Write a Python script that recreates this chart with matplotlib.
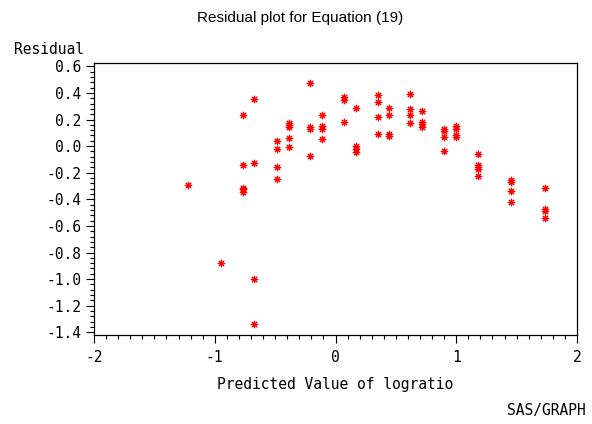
import matplotlib
matplotlib.use("Agg")
import matplotlib.pyplot as plt
from matplotlib.ticker import MultipleLocator, FormatStrFormatter

plt.rcParams['axes.unicode_minus'] = False

# predicted value of logratio and residuals
predicted = [-1.223, -0.945,
             -0.765, -0.765, -0.765, -0.765, -0.765,
             -0.671, -0.671, -0.671, -0.671,
             -0.486, -0.486, -0.486, -0.486,
             -0.389, -0.389, -0.389, -0.389, -0.389,
             -0.210, -0.210, -0.210, -0.210,
             -0.113, -0.113, -0.113, -0.113,
             0.070, 0.070, 0.070,
             0.166, 0.166, 0.166, 0.166,
             0.348, 0.348, 0.348, 0.348,
             0.442, 0.442, 0.442, 0.442,
             0.621, 0.621, 0.621, 0.621,
             0.718, 0.718, 0.718, 0.718,
             0.900, 0.900, 0.900, 0.900,
             0.998, 0.998, 0.998, 0.998,
             1.176, 1.176, 1.176, 1.176, 1.176,
             1.456, 1.456, 1.456, 1.456,
             1.735, 1.735, 1.735, 1.735]
residual = [-0.295, -0.877,
            0.232, -0.144, -0.313, -0.325, -0.343,
            0.352, -0.129, -0.997, -1.340,
            0.038, -0.020, -0.159, -0.245,
            0.176, 0.159, 0.144, 0.059, -0.007,
            0.474, 0.146, 0.129, -0.072,
            0.232, 0.149, 0.131, 0.056,
            0.369, 0.349, 0.183,
            0.284, 0.003, -0.024, -0.044,
            0.384, 0.332, 0.217, 0.093,
            0.284, 0.232, 0.089, 0.076,
            0.389, 0.281, 0.236, 0.171,
            0.262, 0.179, 0.164, 0.144,
            0.126, 0.114, 0.071, -0.037,
            0.151, 0.131, 0.083, 0.071,
            -0.062, -0.144, -0.157, -0.174, -0.223,
            -0.257, -0.268, -0.338, -0.420,
            -0.313, -0.473, -0.488, -0.543]

mono = 'DejaVu Sans Mono'

fig = plt.figure(figsize=(5.92, 4.24), dpi=100)
ax = fig.add_axes([94/592, 1-335/424, 483/592, 272/424])

ax.scatter(predicted, residual, marker=(8, 2, 0), s=22, color='red', linewidths=0.8)

ax.set_xlim(-2, 2)
ax.set_ylim(-1.42, 0.625)
ax.xaxis.set_major_locator(MultipleLocator(1))
ax.xaxis.set_minor_locator(MultipleLocator(0.1))
ax.yaxis.set_minor_locator(MultipleLocator(0.04))
ax.yaxis.set_major_formatter(FormatStrFormatter('%.1f'))
ax.set_yticks([-1.4, -1.2, -1.0, -0.8, -0.6, -0.4, -0.2, 0.0, 0.2, 0.4, 0.6])

ax.tick_params(which='major', length=6, width=0.8, direction='out', pad=5)
ax.tick_params(which='minor', length=3, width=0.8, direction='out')
ax.tick_params(axis='y', pad=3)
ax.tick_params(labelsize=10.5)
for lab in ax.get_xticklabels() + ax.get_yticklabels():
    lab.set_family(mono)
for sp in ax.spines.values():
    sp.set_linewidth(0.9)

fig.text(300/592, 1-18/424, 'Residual plot for Equation (19)', ha='center', va='center',
         fontsize=11, family='Liberation Sans')
fig.text(14/592, 1-50/424, 'Residual', ha='left', va='center', fontsize=10.5, family=mono)
fig.text(335/592, 1-384/424, 'Predicted Value of logratio', ha='center', va='center',
         fontsize=10.5, family=mono)
fig.text(586/592, 1-411/424, 'SAS/GRAPH', ha='right', va='center', fontsize=10.5, family=mono)

fig.savefig('out.png', dpi=100)
